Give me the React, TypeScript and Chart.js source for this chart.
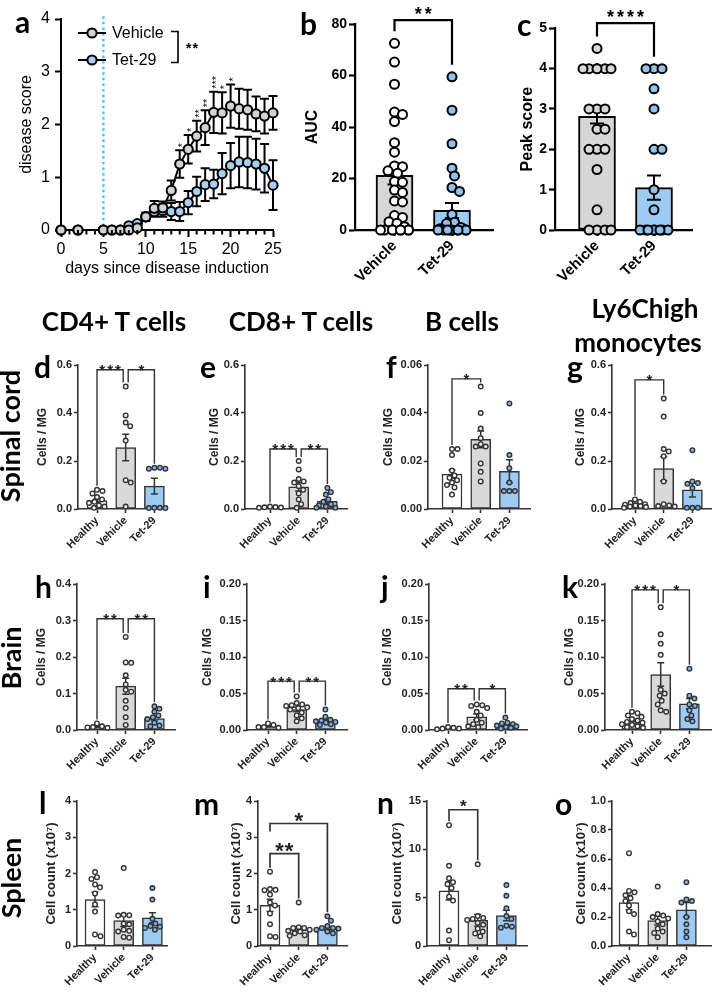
import React, { useEffect, useRef } from "react";
import { Chart, registerables } from "chart.js";

Chart.register(...registerables);

const SANS = "'Liberation Sans', Arial, Helvetica, sans-serif";
const HEAD = "Lato, 'Open Sans', 'Noto Sans', sans-serif";
Chart.defaults.font.family = SANS;

// ===== Panel a: disease score over time =====
const days = [0, 2, 5, 6, 7, 8, 9, 10, 11, 12, 13, 14, 15, 16, 17, 18, 19, 20, 21, 22, 23, 24, 25];
const vehicleScore = [0, 0, 0, 0, 0, 0, 0.04, 0.25, 0.41, 0.42, 0.75, 1.25, 1.53, 1.78, 1.94, 2.23, 2.22, 2.35, 2.3, 2.28, 2.2, 2.16, 2.22];
const vehicleSem = [0, 0, 0, 0, 0, 0, 0.03, 0.05, 0.14, 0.12, 0.19, 0.26, 0.27, 0.29, 0.33, 0.39, 0.39, 0.41, 0.38, 0.38, 0.33, 0.33, 0.32];
const tetScore = [0, 0, 0, 0, 0, 0.08, 0.12, 0.25, 0.35, 0.37, 0.35, 0.35, 0.52, 0.73, 0.86, 0.87, 1.07, 1.22, 1.29, 1.28, 1.25, 1.17, 0.85];
const tetSem = [0, 0, 0, 0, 0, 0.04, 0.05, 0.08, 0.1, 0.12, 0.16, 0.18, 0.22, 0.28, 0.31, 0.27, 0.39, 0.43, 0.48, 0.49, 0.48, 0.46, 0.47];
const starDays = [14, 15, 16, 17, 18, 19, 20];
const starMarks = ["*", "*", "**", "**", "***", "*", "*"];
const aXTicks = [0, 5, 10, 15, 20, 25];
const aYTicks = [0, 1, 2, 3, 4];
const inductionDay = 5;

// ===== Groups =====
const groups2 = ["Vehicle", "Tet-29"];
const groups3 = ["Healthy", "Vehicle", "Tet-29"];

// ===== Panel b: AUC =====
const bVehicle = [72.5, 65.2, 56.6, 45.8, 44.9, 42.1, 33.9, 30.2, 24.9, 24.6, 23, 22, 18.8, 18.5, 15.5, 14.6, 11.3, 10.9, 5.6, 4.9, 3.2, 2.6, 1.3, 0, 0, 0, 0, 0, 0, 0, 0];
const bTet = [59.5, 46.5, 33.5, 24, 21, 16.5, 15, 6, 3, 2.5, 1, 0.5, 0, 0, 0, 0, 0, 0, 0, 0, 0];
const bMeans = [21.2, 7.6];
const bSems = [3.5, 2.9];
const bTicks = [0, 20, 40, 60, 80];
const bSig = [[0, 1, "**", 81.5]];

// ===== Panel c: Peak score =====
const cVehicle = [4.5, 4, 4, 4, 4, 4, 4, 3, 3, 3, 2.5, 2.5, 2, 2, 2, 1.5, 0.5, 0, 0, 0, 0];
const cTet = [4, 4, 4, 3.5, 3, 2, 2, 1, 0.5, 0, 0, 0, 0, 0, 0, 0, 0];
const cMeans = [2.82, 1.05];
const cSems = [0.18, 0.3];
const cTicks = [0, 1, 2, 3, 4, 5];
const cSig = [[0, 1, "****", 5.13]];

// ===== Spinal cord (d-g) =====
const dPoints = [
  [0.08, 0.075, 0.065, 0.05, 0.04, 0.03, 0.025, 0.015, 0.01, 0.005],
  [0.51, 0.39, 0.36, 0.345, 0.285, 0.12, 0.11, 0.01],
  [0.172, 0.168, 0.168, 0.172, 0.005, 0.004, 0.004, 0.005],
];
const dMeans = [0.035, 0.256, 0.095];
const dSems = [0.008, 0.055, 0.033];
const dSig = [[0, 1, "***", 0.58], [1, 2, "*", 0.58]];

const ePoints = [
  [0.01, 0.008, 0.006, 0.007, 0.005],
  [0.2, 0.165, 0.125, 0.115, 0.11, 0.095, 0.08, 0.065, 0.04, 0.02, 0.005],
  [0.088, 0.07, 0.06, 0.04, 0.03, 0.02, 0.015, 0.01, 0.005, 0.005],
];
const eMeans = [0.007, 0.092, 0.032];
const eSems = [0.001, 0.017, 0.009];
const eSig = [[0, 1, "***", 0.25], [1, 2, "**", 0.25]];

const fPoints = [
  [0.025, 0.025, 0.0225, 0.016, 0.014, 0.013, 0.012, 0.011, 0.01, 0.009, 0.006],
  [0.051, 0.04, 0.0335, 0.0295, 0.027, 0.026, 0.026, 0.019, 0.0155, 0.0115],
  [0.044, 0.0225, 0.017, 0.011, 0.0075, 0.0075, 0.0075],
];
const fMeans = [0.0145, 0.029, 0.0157];
const fSems = [0.0018, 0.0035, 0.0048];
const fSig = [[0, 1, "*", 0.0542]];

const gPoints = [
  [0.04, 0.03, 0.025, 0.02, 0.018, 0.015, 0.012, 0.01, 0.008, 0.005],
  [0.46, 0.385, 0.25, 0.24, 0.22, 0.115, 0.02, 0.015, 0.012, 0.01],
  [0.245, 0.115, 0.108, 0.105, 0.087, 0.005, 0.005, 0.005],
];
const gMeans = [0.02, 0.168, 0.08];
const gSems = [0.004, 0.05, 0.03];
const gSig = [[0, 1, "*", 0.538]];

// ===== Brain (h-k) =====
const hPoints = [
  [0.018, 0.01, 0.008, 0.007, 0.006],
  [0.255, 0.185, 0.184, 0.15, 0.125, 0.11, 0.105, 0.08, 0.06, 0.035, 0.014],
  [0.065, 0.058, 0.05, 0.04, 0.035, 0.03, 0.02, 0.012, 0.01],
];
const hMeans = [0.01, 0.12, 0.031];
const hSems = [0.003, 0.022, 0.006];
const hSig = [[0, 1, "**", 0.305], [1, 2, "**", 0.305]];

const iPoints = [
  [0.009, 0.007, 0.004, 0.004, 0.003],
  [0.046, 0.037, 0.035, 0.034, 0.033, 0.031, 0.03, 0.028, 0.024, 0.02, 0.016, 0.012],
  [0.028, 0.018, 0.014, 0.013, 0.012, 0.011, 0.01, 0.008, 0.007],
];
const iMeans = [0.005, 0.028, 0.012];
const iSems = [0.001, 0.003, 0.002];
const iSig = [[0, 1, "***", 0.067], [1, 2, "**", 0.067]];

const jPoints = [
  [0.004, 0.003, 0.002, 0.002, 0.001],
  [0.035, 0.034, 0.033, 0.03, 0.025, 0.02, 0.014, 0.01, 0.008, 0.005, 0.004],
  [0.017, 0.01, 0.009, 0.008, 0.006, 0.005, 0.004, 0.003, 0.002],
];
const jMeans = [0.002, 0.018, 0.007];
const jSems = [0.0006, 0.004, 0.0015];
const jSig = [[0, 1, "**", 0.0566], [1, 2, "*", 0.0566]];

const kPoints = [
  [0.025, 0.023, 0.02, 0.018, 0.015, 0.013, 0.011, 0.01, 0.008, 0.007, 0.005, 0.004, 0.003],
  [0.168, 0.131, 0.118, 0.103, 0.055, 0.05, 0.047, 0.04, 0.035, 0.027, 0.025],
  [0.084, 0.047, 0.043, 0.035, 0.033, 0.027, 0.02, 0.015, 0.012],
];
const kMeans = [0.01, 0.076, 0.036];
const kSems = [0.002, 0.016, 0.007];
const kSig = [[0, 1, "***", 0.192], [1, 2, "*", 0.192]];

// ===== Spleen (l-o) =====
const lPoints = [
  [2.04, 1.9, 1.85, 1.7, 1.62, 1.45, 1.15, 0.95, 0.32, 0.27],
  [2.15, 0.86, 0.85, 0.84, 0.62, 0.6, 0.45, 0.42, 0.4, 0.25, 0.23],
  [1.6, 1.28, 0.75, 0.62, 0.55, 0.53, 0.5, 0.45],
];
const lMeans = [1.28, 0.7, 0.78];
const lSems = [0.2, 0.16, 0.14];

const mPoints = [
  [2.05, 1.57, 1.55, 1.54, 1.42, 1.2, 1.12, 0.9, 0.6, 0.27, 0.25],
  [1.2, 0.52, 0.5, 0.5, 0.45, 0.42, 0.4, 0.35, 0.3, 0.28],
  [0.82, 0.7, 0.55, 0.5, 0.5, 0.48, 0.45, 0.4, 0.35],
];
const mMeans = [1.12, 0.45, 0.48];
const mSems = [0.17, 0.08, 0.05];
const mSig = [[0, 1, "**", 2.55], [0, 2, "*", 3.38]];

const nPoints = [
  [12.5, 8.3, 7.0, 6.6, 6.4, 6.0, 5.1, 4.7, 1.6, 0.6],
  [8.45, 3.1, 2.9, 2.8, 2.7, 2.4, 2.2, 1.8, 1.5, 1.3, 1.0],
  [6.3, 5.2, 3.9, 3.1, 2.8, 2.1, 2.0, 1.9],
];
const nMeans = [5.7, 2.65, 3.15];
const nSems = [0.95, 0.6, 0.55];
const nSig = [[0, 1, "*", 14.1]];

const oPoints = [
  [0.64, 0.38, 0.37, 0.35, 0.33, 0.31, 0.28, 0.24, 0.22, 0.1, 0.08],
  [0.41, 0.22, 0.21, 0.2, 0.19, 0.17, 0.15, 0.12, 0.1, 0.09, 0.06],
  [0.44, 0.32, 0.31, 0.3, 0.2, 0.15, 0.1, 0.06],
];
const oMeans = [0.3, 0.175, 0.25];
const oSems = [0.05, 0.03, 0.05];

const ticks06 = [0, 0.2, 0.4, 0.6];
const ticks006 = [0, 0.02, 0.04, 0.06];
const ticks04 = [0, 0.1, 0.2, 0.3, 0.4];
const ticks020 = [0, 0.05, 0.1, 0.15, 0.2];
const ticks4 = [0, 1, 2, 3, 4];
const ticks15 = [0, 5, 10, 15];
const ticks10 = [0, 0.2, 0.4, 0.6, 0.8, 1.0];

// ===== Styles =====
const BAR_FILL3 = ["#ffffff", "#d9d9d9", "#9ecbf3"];
const PT_FILL3 = ["#ffffff", "#f0f0f0", "#7fb5e6"];

const bigStyle = {
  tick: 14, title: 16, label: 15, r: 4.5, pbw: 2, barW: 37, line: "#000", lw: 2, cap: 7,
  legPad: 12, tl: 6, axisW: 2.2, star: 18, starGap: 8, starLS: 3, brLW: 2.2,
  swarmMin: 8, swarmMax: 14, padTop: 30, xh: 62, text: "#000",
};
const smallStyle = {
  tick: 11, title: 12, label: 11, r: 2.3, pbw: 1.4, barW: 20, line: "#333", lw: 1.5, cap: 3.5,
  legPad: 4, tl: 4, axisW: 1.6, star: 15, starGap: 1, starLS: 2, brLW: 1.4,
  swarmMin: 5.4, swarmMax: 11, padTop: 22, xh: 48, text: "#222",
};
const spleenStyle = { ...smallStyle, title: 13 };

const SP = 28.7;
const ROWS = [
  { top: 365, bottom: 509 },
  { top: 584, bottom: 730 },
  { top: 801, bottom: 946 },
];

function small(points, means, sems, yTicks, dec, sig, row, axisX, firstX, endX, titleX, extra = {}) {
  const spleen = row === 2;
  return {
    labels: groups3, points, means, sems, yTicks, dec, sig,
    yTitle: spleen ? "Cell count (x10\u2077)" : "Cells / MG",
    axisX, firstX, endX, spacing: SP, top: ROWS[row].top, bottom: ROWS[row].bottom, titleX,
    st: spleen ? spleenStyle : smallStyle, pointFill: PT_FILL3, barFill: BAR_FILL3, ...extra,
  };
}

const barPanels = [
  {
    labels: groups2, points: [bVehicle, bTet], means: bMeans, sems: bSems, yTicks: bTicks, dec: 0, sig: bSig,
    yTitle: "AUC", axisX: 355, firstX: 394.5, endX: 493, spacing: 57.5, top: 24, bottom: 230, titleX: 313,
    st: bigStyle, pointFill: ["#ffffff", "#8fc2ef"], barFill: ["#d6d6d6", "#9ecbf3"],
  },
  {
    labels: groups2, points: [cVehicle, cTet], means: cMeans, sems: cSems, yTicks: cTicks, dec: 0, sig: cSig,
    yTitle: "Peak score", axisX: 555, firstX: 597, endX: 692, spacing: 57, top: 28.3, bottom: 230, titleX: 528,
    st: bigStyle, pointFill: ["#d8d8d8", "#8fc2ef"], barFill: ["#d6d6d6", "#9ecbf3"],
  },
  small(dPoints, dMeans, dSems, ticks06, 1, dSig, 0, 78, 97, 167, 43),
  small(ePoints, eMeans, eSems, ticks06, 1, eSig, 0, 245, 270, 347, 215),
  small(fPoints, fMeans, fSems, ticks006, 2, fSig, 0, 428, 452, 530, 389),
  small(gPoints, gMeans, gSems, ticks06, 1, gSig, 0, 612, 635, 711, 581),
  small(hPoints, hMeans, hSems, ticks04, 1, hSig, 1, 77, 97, 175, 42),
  small(iPoints, iMeans, iSems, ticks020, 2, iSig, 1, 247, 268, 347, 208),
  small(jPoints, jMeans, jSems, ticks020, 2, jSig, 1, 429, 448, 527, 388),
  small(kPoints, kMeans, kSems, ticks020, 2, kSig, 1, 605, 632, 711, 570),
  small(lPoints, lMeans, lSems, ticks4, 0, [], 2, 77, 95, 167, 51),
  small(mPoints, mMeans, mSems, ticks4, 0, mSig, 2, 258, 270, 347, 236, { starSize: 22, starGap: 5, starLS: 1, brLW: 1.7 }),
  small(nPoints, nMeans, nSems, ticks15, 0, nSig, 2, 427, 449, 527, 397, { starSize: 17, starGap: 5, starLS: 1, brLW: 1.6 }),
  small(oPoints, oMeans, oSems, ticks10, 1, [], 2, 612, 629, 711, 581),
];

// ===== Overlay text (layout) =====
const panelLetters = [
  ["a", 15, 33], ["b", 300, 35], ["c", 517, 36],
  ["d", 34, 378], ["e", 200, 378], ["f", 386, 378], ["g", 567, 378],
  ["h", 35, 598], ["i", 203, 598], ["j", 381, 598], ["k", 562, 598],
  ["l", 39, 814], ["m", 194, 815], ["n", 377, 814], ["o", 555, 815],
];
const columnHeads = [
  ["CD4+ T cells", 114, 331], ["CD8+ T cells", 301, 331], ["B cells", 462, 331],
  ["Ly6Chigh", 645, 318], ["monocytes", 638, 352],
];
const rowHeads = [["Spinal cord", 20, 436], ["Brain", 21, 658], ["Spleen", 21, 878]];

// ===== helpers =====
function swarmOffsets(vals, pxPerY, minD, maxHalf) {
  const order = vals.map((_, i) => i).sort((a, b) => vals[b] - vals[a]);
  const placed = [];
  const res = new Array(vals.length).fill(0);
  for (const i of order) {
    const y = vals[i] * pxPerY;
    let best = 0, bestPen = Infinity;
    for (let k = 0; ; k++) {
      const dx = Math.ceil(k / 2) * 0.5 * (k % 2 === 1 ? 1 : -1);
      if (Math.abs(dx) > maxHalf) break;
      let pen = 0;
      for (const p of placed) {
        const d = Math.hypot(p.x - dx, p.y - y);
        if (d < minD) pen += minD - d;
      }
      if (pen === 0) { best = dx; bestPen = 0; break; }
      if (pen < bestPen - 1e-9) { bestPen = pen; best = dx; }
    }
    placed.push({ x: best, y });
    res[i] = best;
  }
  return res;
}

function barGeo(p) {
  const lh = p.st.title * 1.2;
  const left = Math.floor(p.titleX - lh / 2 - 1);
  const top = Math.max(0, Math.floor(p.top - p.st.padTop));
  const right = Math.ceil(p.endX + 10);
  const bottomEdge = Math.ceil(p.bottom + p.st.xh);
  return {
    left, top, width: right - left, height: bottomEdge - top,
    yw: p.axisX - left, padTop: p.top - top, padRight: right - p.endX,
    xh: bottomEdge - p.bottom, titlePad: p.titleX - left - lh / 2,
  };
}

function makeBarConfig(p, g) {
  const st = p.st;
  const ymax = p.yTicks[p.yTicks.length - 1];
  const pxPerY = (p.bottom - p.top) / ymax;
  const xMin = (p.axisX - p.firstX) / p.spacing;
  const xMax = (p.endX - p.firstX) / p.spacing;
  const starSize = p.starSize ?? st.star;
  const starGap = p.starGap ?? st.starGap;
  const starLS = p.starLS ?? st.starLS;
  const brLW = p.brLW ?? st.brLW;
  const scatter = p.points.map((vals, gi) => {
    const offs = swarmOffsets(vals, pxPerY, st.swarmMin, st.swarmMax);
    return {
      type: "scatter",
      data: vals.map((v, j) => ({ x: gi + offs[j] / p.spacing, y: v })),
      pointRadius: st.r, pointHoverRadius: st.r,
      pointBackgroundColor: p.pointFill[gi], pointBorderColor: st.line, pointBorderWidth: st.pbw,
      clip: false, order: 1,
    };
  });
  const plugin = {
    id: "barExtras",
    afterDatasetDraw(chart, args) {
      if (args.index !== 0) return;
      const { ctx } = chart;
      const x = chart.scales.x, y = chart.scales.y;
      ctx.save();
      ctx.strokeStyle = st.line;
      ctx.lineWidth = st.lw;
      p.means.forEach((m, i) => {
        const px = x.getPixelForValue(i);
        const y1 = y.getPixelForValue(m + p.sems[i]);
        const y0 = y.getPixelForValue(Math.max(0, m - p.sems[i]));
        ctx.beginPath();
        ctx.moveTo(px, y0); ctx.lineTo(px, y1);
        ctx.moveTo(px - st.cap, y1); ctx.lineTo(px + st.cap, y1);
        ctx.moveTo(px - st.cap, y0); ctx.lineTo(px + st.cap, y0);
        ctx.stroke();
      });
      ctx.restore();
    },
    afterDraw(chart) {
      const { ctx } = chart;
      const x = chart.scales.x, y = chart.scales.y;
      ctx.save();
      ctx.strokeStyle = st.line;
      ctx.lineWidth = brLW;
      ctx.lineJoin = "miter";
      ctx.fillStyle = st.text;
      ctx.font = `bold ${starSize}px ${SANS}`;
      ctx.textAlign = "center";
      ctx.textBaseline = "alphabetic";
      for (const s of p.sig) {
        const [a, b, label, level] = s;
        const yTop = y.getPixelForValue(level);
        let xa = x.getPixelForValue(a), xb = x.getPixelForValue(b);
        for (const o of p.sig) {
          if (o === s || Math.abs(o[3] - level) > 1e-9) continue;
          if (o[0] === b) xb -= 2.5;
          if (o[1] === a) xa += 2.5;
        }
        const legEnd = (gi) => {
          const under = p.sig.some((o) => o !== s && o[3] < level && (o[0] === gi || o[1] === gi));
          if (under) return yTop + 8;
          const mx = Math.max(...p.points[gi], p.means[gi] + p.sems[gi]);
          return Math.max(yTop + 3, y.getPixelForValue(mx) - st.legPad);
        };
        ctx.beginPath();
        ctx.moveTo(xa, legEnd(a)); ctx.lineTo(xa, yTop); ctx.lineTo(xb, yTop); ctx.lineTo(xb, legEnd(b));
        ctx.stroke();
        ctx.letterSpacing = `${starLS}px`;
        ctx.fillText(label, (xa + xb) / 2 + starLS / 2, yTop - starGap + 0.43 * starSize);
        ctx.letterSpacing = "0px";
      }
      ctx.restore();
    },
  };
  return {
    type: "bar",
    data: {
      datasets: [
        {
          type: "bar", data: p.means.map((m, i) => ({ x: i, y: m })),
          backgroundColor: p.barFill, borderColor: st.line, borderWidth: st.lw,
          borderSkipped: false, barThickness: st.barW, order: 5,
        },
        ...scatter,
      ],
    },
    options: {
      animation: false, responsive: false, events: [],
      layout: { padding: { left: 0, right: g.padRight, top: g.padTop, bottom: 0 }, autoPadding: false },
      plugins: { legend: { display: false }, tooltip: { enabled: false } },
      scales: {
        x: {
          type: "linear", min: xMin, max: xMax, offset: false,
          afterBuildTicks: (s) => { s.ticks = p.labels.map((_, i) => ({ value: i })); },
          afterFit: (s) => { s.height = g.xh; s.paddingLeft = 0; s.paddingRight = 0; },
          ticks: {
            callback: (v) => p.labels[v] ?? "", autoSkip: false, minRotation: 45, maxRotation: 45,
            font: { size: st.label, weight: "bold" }, color: st.text, padding: 1,
          },
          grid: { drawOnChartArea: false, offset: false, tickLength: st.tl, tickWidth: st.axisW, tickColor: st.line },
          border: { color: st.line, width: st.axisW },
        },
        y: {
          type: "linear", min: 0, max: ymax,
          afterBuildTicks: (s) => { s.ticks = p.yTicks.map((v) => ({ value: v })); },
          afterFit: (s) => { s.width = g.yw; s.paddingTop = 0; s.paddingBottom = 0; },
          ticks: { callback: (v) => Number(v).toFixed(p.dec), font: { size: st.tick, weight: "bold" }, color: st.text, padding: 2 },
          grid: { drawOnChartArea: false, tickLength: st.tl, tickWidth: st.axisW, tickColor: st.line },
          border: { color: st.line, width: st.axisW },
          title: {
            display: true, text: p.yTitle, font: { size: st.title, weight: "bold" }, color: st.text,
            padding: { top: g.titlePad, bottom: 0 },
          },
        },
      },
    },
    plugins: [plugin],
  };
}

const aBox = { left: 0, top: 0, width: 290, height: 278 };

function makePanelA() {
  const plugin = {
    id: "panelA",
    beforeDatasetsDraw(chart) {
      const { ctx } = chart;
      const x = chart.scales.x, y = chart.scales.y;
      ctx.save();
      ctx.strokeStyle = "#3fc1f3";
      ctx.lineWidth = 2.4;
      ctx.setLineDash([2.4, 3.2]);
      const xi = x.getPixelForValue(inductionDay);
      ctx.beginPath();
      ctx.moveTo(xi, y.getPixelForValue(4.05));
      ctx.lineTo(xi, y.getPixelForValue(0));
      ctx.stroke();
      ctx.setLineDash([]);
      ctx.strokeStyle = "#000";
      ctx.lineWidth = 2;
      const series = [[tetScore, tetSem], [vehicleScore, vehicleSem]];
      for (const [m, s] of series) {
        for (let i = 0; i < days.length; i++) {
          if (s[i] <= 0) continue;
          const px = x.getPixelForValue(days[i]);
          const y1 = y.getPixelForValue(m[i] + s[i]);
          const y0 = y.getPixelForValue(Math.max(0, m[i] - s[i]));
          ctx.beginPath();
          ctx.moveTo(px, y0); ctx.lineTo(px, y1);
          ctx.moveTo(px - 4.5, y1); ctx.lineTo(px + 4.5, y1);
          ctx.moveTo(px - 4.5, y0); ctx.lineTo(px + 4.5, y0);
          ctx.stroke();
        }
      }
      ctx.restore();
    },
    afterDraw(chart) {
      const { ctx } = chart;
      const x = chart.scales.x, y = chart.scales.y;
      ctx.save();
      ctx.strokeStyle = "#000";
      ctx.lineWidth = 2;
      const yb = y.getPixelForValue(0);
      for (let d = 0; d <= 25; d++) {
        if (d % 5 === 0) continue;
        const px = x.getPixelForValue(d);
        ctx.beginPath(); ctx.moveTo(px, yb); ctx.lineTo(px, yb + 4.5); ctx.stroke();
      }
      ctx.fillStyle = "#000";
      const ss = 11;
      ctx.font = `${ss}px ${SANS}`;
      starDays.forEach((day, k) => {
        const i = days.indexOf(day);
        const px = x.getPixelForValue(day);
        const top = y.getPixelForValue(vehicleScore[i] + vehicleSem[i]) - 3;
        ctx.save();
        ctx.translate(px, top);
        ctx.rotate(-Math.PI / 2);
        ctx.textAlign = "left";
        ctx.textBaseline = "alphabetic";
        ctx.fillText(starMarks[k], 0, 0.575 * ss);
        ctx.restore();
      });
      const rows = [["Vehicle", "#d2d2d2", 33], ["Tet-29", "#a6cff3", 60]];
      ctx.font = `16px ${SANS}`;
      ctx.textBaseline = "middle";
      ctx.textAlign = "left";
      for (const [t, fill, ly] of rows) {
        ctx.strokeStyle = "#000"; ctx.lineWidth = 2;
        ctx.beginPath(); ctx.moveTo(78, ly); ctx.lineTo(106, ly); ctx.stroke();
        ctx.beginPath(); ctx.arc(92, ly, 4.6, 0, Math.PI * 2);
        ctx.fillStyle = fill; ctx.fill(); ctx.stroke();
        ctx.fillStyle = "#000";
        ctx.fillText(t, 112, ly + 1);
      }
      ctx.lineWidth = 1.6;
      ctx.beginPath();
      ctx.moveTo(171, 31.5); ctx.lineTo(178, 31.5); ctx.lineTo(178, 62.5); ctx.lineTo(171, 62.5);
      ctx.stroke();
      ctx.font = `bold 14px ${SANS}`;
      ctx.textBaseline = "alphabetic";
      ctx.letterSpacing = "1px";
      ctx.fillText("**", 186, 53);
      ctx.letterSpacing = "0px";
      ctx.restore();
    },
  };
  const ds = (label, vals, fill) => ({
    label, data: days.map((d, i) => ({ x: d, y: vals[i] })),
    borderColor: "#000", borderWidth: 2, pointRadius: 4.6, pointHoverRadius: 4.6,
    pointBackgroundColor: fill, pointBorderColor: "#000", pointBorderWidth: 2,
    clip: false, fill: false, tension: 0,
  });
  return {
    type: "line",
    data: { datasets: [ds("Vehicle", vehicleScore, "#d2d2d2"), ds("Tet-29", tetScore, "#a6cff3")] },
    options: {
      animation: false, responsive: false, events: [],
      layout: { padding: { left: 0, top: 19, right: 17, bottom: 0 }, autoPadding: false },
      plugins: { legend: { display: false }, tooltip: { enabled: false } },
      scales: {
        x: {
          type: "linear", min: 0, max: 25,
          afterBuildTicks: (s) => { s.ticks = aXTicks.map((v) => ({ value: v })); },
          afterFit: (s) => { s.height = 48; s.paddingLeft = 0; s.paddingRight = 0; },
          ticks: { font: { size: 16 }, color: "#000", padding: 3, maxRotation: 0, autoSkip: false },
          grid: { drawOnChartArea: false, tickLength: 7, tickWidth: 2, tickColor: "#000" },
          border: { color: "#000", width: 2 },
          title: { display: true, text: "days since disease induction", font: { size: 16 }, color: "#000", padding: 0 },
        },
        y: {
          type: "linear", min: 0, max: 4,
          afterBuildTicks: (s) => { s.ticks = aYTicks.map((v) => ({ value: v })); },
          afterFit: (s) => { s.width = 61; s.paddingTop = 0; s.paddingBottom = 0; },
          ticks: { font: { size: 16 }, color: "#000", padding: 5 },
          grid: { drawOnChartArea: false, tickLength: 6, tickWidth: 2, tickColor: "#000" },
          border: { color: "#000", width: 2 },
          title: { display: true, text: "disease score", font: { size: 16 }, color: "#000", padding: { top: 17, bottom: 0 } },
        },
      },
    },
    plugins: [plugin],
  };
}

function ChartBox({ make, box }) {
  const ref = useRef(null);
  useEffect(() => {
    const chart = new Chart(ref.current, make());
    return () => chart.destroy();
  }, []);
  return (
    <canvas
      ref={ref}
      width={box.width}
      height={box.height}
      style={{ position: "absolute", left: box.left, top: box.top, width: box.width, height: box.height }}
    />
  );
}

export default function App() {
  return (
    <div style={{ position: "absolute", left: 0, top: 0, width: 712, height: 992, overflow: "hidden", background: "#fff" }}>
      <ChartBox make={makePanelA} box={aBox} />
      {barPanels.map((p, i) => {
        const g = barGeo(p);
        return <ChartBox key={i} make={() => makeBarConfig(p, g)} box={g} />;
      })}
      <svg width={712} height={992} style={{ position: "absolute", left: 0, top: 0, pointerEvents: "none" }}>
        {panelLetters.map(([t, x, y]) => (
          <text key={t} x={x} y={y} fontFamily={HEAD} fontWeight={700} fontSize={30} fill="#000">{t}</text>
        ))}
        {columnHeads.map(([t, x, y]) => (
          <text key={t} x={x} y={y} textAnchor="middle" fontFamily={HEAD} fontWeight={700} fontSize={26} fill="#000">{t}</text>
        ))}
        {rowHeads.map(([t, x, y]) => (
          <text key={t} transform={`translate(${x},${y}) rotate(-90)`} textAnchor="middle" fontFamily={HEAD} fontWeight={700} fontSize={27} fill="#000">{t}</text>
        ))}
      </svg>
    </div>
  );
}
